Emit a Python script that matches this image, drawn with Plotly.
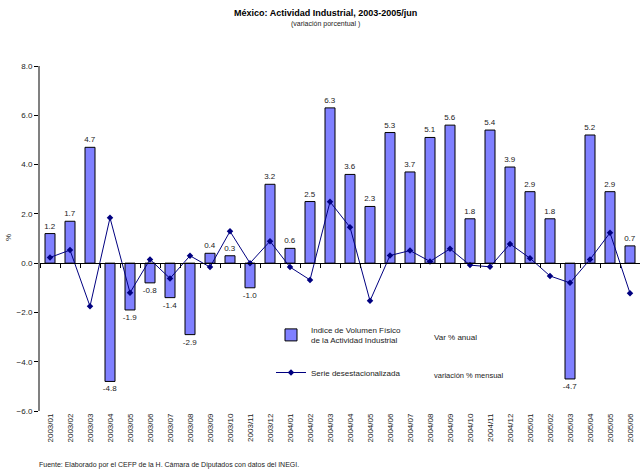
import plotly.graph_objects as go

categories = ["2003/01","2003/02","2003/03","2003/04","2003/05","2003/06","2003/07","2003/08","2003/09","2003/10","2003/11","2003/12",
              "2004/01","2004/02","2004/03","2004/04","2004/05","2004/06","2004/07","2004/08","2004/09","2004/10","2004/11","2004/12",
              "2005/01","2005/02","2005/03","2005/04","2005/05","2005/06"]
indice_anual = [1.2, 1.7, 4.7, -4.8, -1.9, -0.8, -1.4, -2.9, 0.4, 0.3, -1.0, 3.2,
                0.6, 2.5, 6.3, 3.6, 2.3, 5.3, 3.7, 5.1, 5.6, 1.8, 5.4, 3.9,
                2.9, 1.8, -4.7, 5.2, 2.9, 0.7]
serie_mensual = [0.23, 0.53, -1.75, 1.84, -1.2, 0.15, -0.62, 0.3, -0.16, 1.29, 0.0, 0.89,
                 -0.16, -0.68, 2.49, 1.46, -1.53, 0.31, 0.51, 0.07, 0.58, -0.08, -0.15, 0.78,
                 0.2, -0.52, -0.8, 0.15, 1.23, -1.22]
y_ticks = [-6, -4, -2, 0, 2, 4, 6, 8]

FONT = "Liberation Sans, Arial, sans-serif"
TXT = "#222222"

def px_x(px):
    return (px - 40) / 600

def px_y(py):
    return (411 - py) / 345

fig = go.Figure()
fig.add_trace(go.Bar(
    x=categories, y=indice_anual, width=0.5,
    marker=dict(color="#8080FF", line=dict(color="#000000", width=1)),
    text=[f"{v:.1f}" for v in indice_anual], textposition="outside",
    textfont=dict(size=8, color=TXT, family=FONT), cliponaxis=False, constraintext="none",
    name="Indice de Volumen Físico<br>de la Actividad Industrial", legend="legend",
))
fig.add_trace(go.Scatter(
    x=categories, y=serie_mensual, mode="lines+markers",
    line=dict(color="#000080", width=1),
    marker=dict(symbol="diamond", size=5, color="#000080"),
    name="Serie desestacionalizada", legend="legend2",
))
# helper trace so the zero-line axis renders
fig.add_trace(go.Scatter(x=[0], y=[None], xaxis="x2", showlegend=False, hoverinfo="skip"))

fig.update_layout(
    width=640, height=474,
    margin=dict(l=40, r=0, t=66, b=63),
    paper_bgcolor="white", plot_bgcolor="white",
    font=dict(family=FONT, size=8, color=TXT),
    xaxis=dict(type="category", range=[-0.5, 29.5], showline=False, ticks="", automargin=False,
               tickangle=-90, tickfont=dict(size=8, color=TXT), showgrid=False, zeroline=False),
    xaxis2=dict(overlaying="x", anchor="free", position=6/14, range=[-0.5, 29.5], automargin=False,
                showline=True, linecolor="#000000", linewidth=1,
                ticks="outside", ticklen=4, tickcolor="#000000", tick0=-0.5, dtick=1,
                showticklabels=False, showgrid=False, zeroline=False),
    yaxis=dict(range=[-6, 8], tickvals=y_ticks, tickformat=".1f", automargin=False,
               showline=True, linecolor="#808080", linewidth=2,
               ticks="outside", ticklen=4, tickcolor="#000000",
               showgrid=False, zeroline=False, tickfont=dict(size=8, color=TXT)),
    legend=dict(x=px_x(271), y=px_y(318), xanchor="left", yanchor="top",
                bgcolor="rgba(0,0,0,0)", font=dict(size=8, color=TXT)),
    legend2=dict(x=px_x(271), y=px_y(358), xanchor="left", yanchor="top",
                 bgcolor="rgba(0,0,0,0)", font=dict(size=8, color=TXT)),
    showlegend=True,
)

fig.add_annotation(text="%", xref="paper", yref="paper", x=px_x(8), y=px_y(238), textangle=-90,
                   showarrow=False, font=dict(size=8, color=TXT), xanchor="center", yanchor="middle")
fig.add_annotation(text="<b>México: Actividad Industrial, 2003-2005/jun</b>", xref="paper", yref="paper",
                   x=px_x(325), y=px_y(13), showarrow=False, font=dict(size=9, color="#000000"),
                   xanchor="center", yanchor="middle")
fig.add_annotation(text="(variación porcentual )", xref="paper", yref="paper",
                   x=px_x(325), y=px_y(24), showarrow=False, font=dict(size=7, color=TXT),
                   xanchor="center", yanchor="middle")
fig.add_annotation(text="Var % anual", xref="paper", yref="paper",
                   x=px_x(432), y=px_y(337), showarrow=False, font=dict(size=8, color=TXT),
                   xanchor="left", yanchor="middle")
fig.add_annotation(text="variación % mensual", xref="paper", yref="paper",
                   x=px_x(432), y=px_y(375), showarrow=False, font=dict(size=7.5, color=TXT),
                   xanchor="left", yanchor="middle")
fig.add_annotation(text="Fuente: Elaborado por el CEFP de la H. Cámara de Diputados con datos del INEGI.",
                   xref="paper", yref="paper", x=px_x(37), y=px_y(465), showarrow=False,
                   font=dict(size=7, color=TXT), xanchor="left", yanchor="middle")

fig.write_html("out.html", config={"displayModeBar": False},
               post_script="document.body.style.margin='0';document.body.style.overflow='hidden';")
